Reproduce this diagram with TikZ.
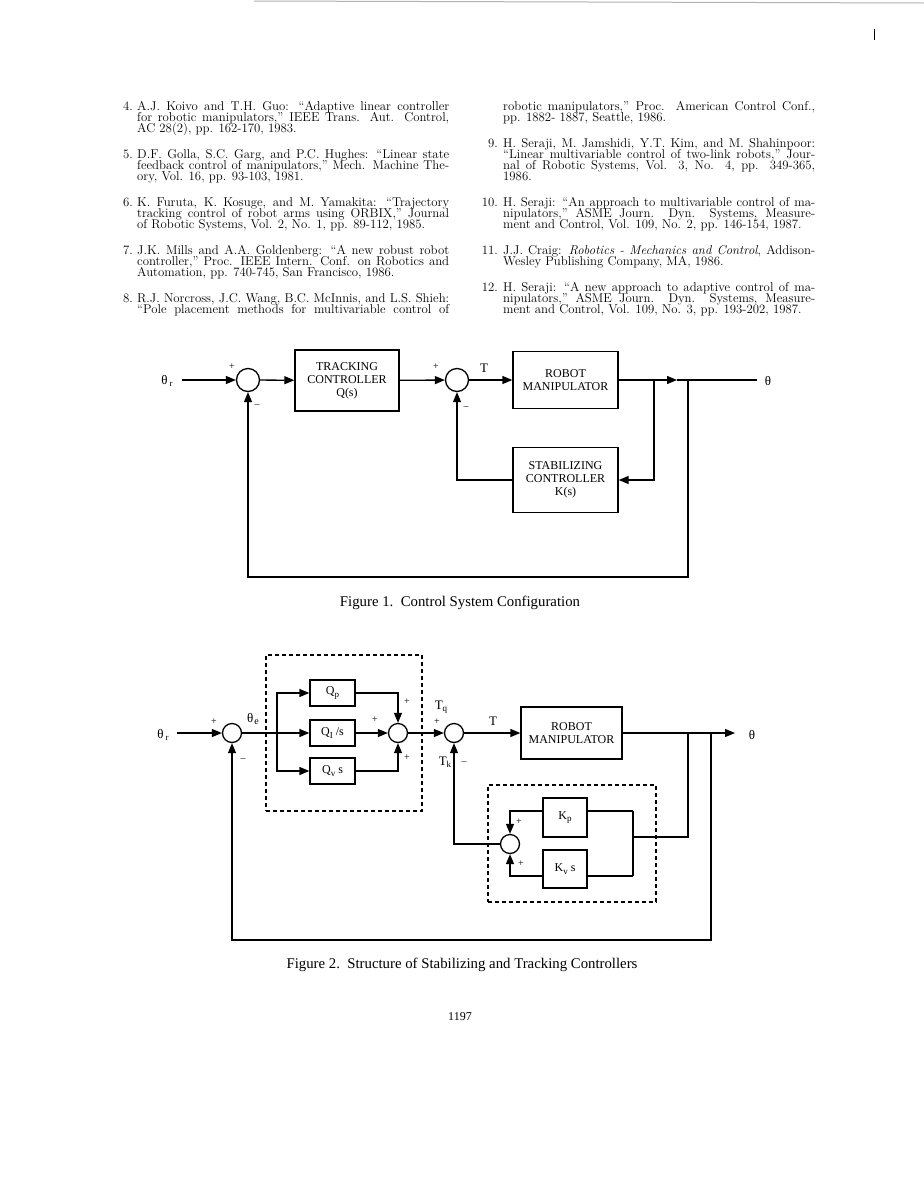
\documentclass[tikz,border=0pt]{standalone}
\usepackage{fontspec}
\newfontfamily\tms{Liberation Serif}
\usetikzlibrary{arrows.meta}
\setlength{\lineskiplimit}{-20pt}
\newlength{\refw}\setlength{\refw}{312pt}
\newcommand{\jl}[1]{\makebox[\refw][s]{#1}}
\newcommand{\sbs}[1]{\raisebox{-2.5pt}{\fontsize{9}{9}\selectfont #1}}
\begin{document}
\begin{tikzpicture}[x=1pt,y=-1pt,
  rt/.style={font=\fontsize{12.8}{11}\selectfont, inner sep=0pt, anchor=base west},
  rn/.style={font=\fontsize{12.8}{11}\selectfont, inner sep=0pt, anchor=base east},
  blk/.style={draw, line width=1.3pt, font=\tms\fontsize{12}{13}\selectfont, align=center, inner sep=0pt},
  sumc/.style={draw, circle, line width=1.3pt, minimum size=23pt, inner sep=0pt},
  sumd/.style={draw, circle, line width=1.3pt, minimum size=19pt, inner sep=0pt},
  ln/.style={line width=1.3pt},
  arr/.style={line width=1.3pt, -{Triangle[length=10pt,width=8pt]}},
  lbl/.style={font=\tms\fontsize{13}{13}\selectfont, inner sep=0pt},
  sgn/.style={font=\tms\fontsize{10}{10}\selectfont, inner sep=0pt},
  dbox/.style={draw, line width=1.3pt, dash pattern=on 4pt off 3pt, inner sep=0pt},
  captxt/.style={font=\tms\fontsize{14.8}{15}\selectfont, inner sep=0pt},
]
\useasboundingbox (0,0) rectangle (924,1192);
\fill[white] (0,0) rectangle (924,1192);
% top page edge and mark
\coordinate (e1) at (254,1); \coordinate (e2) at (924,3);
\draw[gray!60, line width=1pt] (e1) -- (e2);
\coordinate (k1) at (874,29); \coordinate (k2) at (874,40);
\draw[line width=0.6pt] (k1) -- (k2);

% ---------------- references, left column ----------------
\node[rn] (n4) at (133,110) {4.};
\node[rt] (l4a) at (137,110) {\jl{A.J. Koivo and T.H. Guo: “Adaptive linear controller}};
\node[rt] (l4b) at (137,121) {\jl{for robotic manipulators,” IEEE Trans. Aut. Control,}};
\node[rt] (l4c) at (137,132) {AC 28(2), pp. 162-170, 1983.};
\node[rn] (n5) at (133,158) {5.};
\node[rt] (l5a) at (137,158) {\jl{D.F. Golla, S.C. Garg, and P.C. Hughes: “Linear state}};
\node[rt] (l5b) at (137,169) {\jl{feedback control of manipulators,” Mech. Machine The-}};
\node[rt] (l5c) at (137,180) {ory, Vol. 16, pp. 93-103, 1981.};
\node[rn] (n6) at (133,206) {6.};
\node[rt] (l6a) at (137,206) {\jl{K. Furuta, K. Kosuge, and M. Yamakita: “Trajectory}};
\node[rt] (l6b) at (137,217) {\jl{tracking control of robot arms using ORBIX,” Journal}};
\node[rt] (l6c) at (137,228) {of Robotic Systems, Vol. 2, No. 1, pp. 89-112, 1985.};
\node[rn] (n7) at (133,254) {7.};
\node[rt] (l7a) at (137,254) {\jl{J.K. Mills and A.A. Goldenberg: “A new robust robot}};
\node[rt] (l7b) at (137,265) {\jl{controller,” Proc. IEEE Intern. Conf. on Robotics and}};
\node[rt] (l7c) at (137,276) {Automation, pp. 740-745, San Francisco, 1986.};
\node[rn] (n8) at (133,302) {8.};
\node[rt] (l8a) at (137,302) {\jl{R.J. Norcross, J.C. Wang, B.C. McInnis, and L.S. Shieh:}};
\node[rt] (l8b) at (137,313) {\jl{“Pole placement methods for multivariable control of}};

% ---------------- references, right column ----------------
\node[rt] (r8c) at (503,110) {\jl{robotic manipulators,” Proc. American Control Conf.,}};
\node[rt] (r8d) at (503,121) {pp. 1882- 1887, Seattle, 1986.};
\node[rn] (n9) at (498,147) {9.};
\node[rt] (r9a) at (503,147) {\jl{H. Seraji, M. Jamshidi, Y.T. Kim, and M. Shahinpoor:}};
\node[rt] (r9b) at (503,158) {\jl{“Linear multivariable control of two-link robots,” Jour-}};
\node[rt] (r9c) at (503,169) {\jl{nal of Robotic Systems, Vol. 3, No. 4, pp. 349-365,}};
\node[rt] (r9d) at (503,180) {1986.};
\node[rn] (n10) at (498,206) {10.};
\node[rt] (r10a) at (503,206) {\jl{H. Seraji: “An approach to multivariable control of ma-}};
\node[rt] (r10b) at (503,217) {\jl{nipulators,” ASME Journ. Dyn. Systems, Measure-}};
\node[rt] (r10c) at (503,228) {ment and Control, Vol. 109, No. 2, pp. 146-154, 1987.};
\node[rn] (n11) at (498,254) {11.};
\node[rt] (r11a) at (503,254) {\jl{J.J. Craig: \textit{Robotics - Mechanics and Control}, Addison-}};
\node[rt] (r11b) at (503,265) {Wesley Publishing Company, MA, 1986.};
\node[rn] (n12) at (498,291) {12.};
\node[rt] (r12a) at (503,291) {\jl{H. Seraji: “A new approach to adaptive control of ma-}};
\node[rt] (r12b) at (503,302) {\jl{nipulators,” ASME Journ. Dyn. Systems, Measure-}};
\node[rt] (r12c) at (503,313) {ment and Control, Vol. 109, No. 3, pp. 193-202, 1987.};

% ---------------- Figure 1 ----------------
\node[lbl] (thr1) at (167,381) {θ\hspace{2pt}\sbs{r}};
\coordinate (in1) at (182,380);
\node[sumc] (s1) at (248,380) {};
\node[blk, minimum width=104pt, minimum height=61pt] (tc) at (347,380.5) {TRACKING\\CONTROLLER\\Q(s)};
\node[sumc] (s2) at (457,380) {};
\node[blk, minimum width=105pt, minimum height=57pt] (rm1) at (565.5,380) {ROBOT\\MANIPULATOR};
\node[blk, minimum width=105pt, minimum height=65pt] (sc) at (565.5,480) {STABILIZING\\CONTROLLER\\K(s)};
\coordinate (b1) at (654,380);
\coordinate (b2) at (688,380);
\coordinate (tip1) at (677,380);
\coordinate (out1) at (757,380);
\coordinate (c1) at (688,577);
\node[lbl] (th1) at (768,381) {θ};
\draw[arr] (in1) -- (s1);
\draw[arr] (s1) -- (tc);
\draw[arr] (tc) -- (s2);
\draw[arr] (s2) -- (rm1);
\draw[arr] (rm1) -- (tip1);
\draw[ln] (tip1) -- (out1);
\draw[arr] (b1) |- (sc);
\draw[arr] (sc) -| (s2);
\draw[arr] (b2) -- (c1) -| (s1);
\node[sgn] (p1) at (232,367) {+};
\node[sgn] (m1) at (257,406) {–};
\node[sgn] (p2) at (436,367) {+};
\node[lbl] (t1) at (484,368) {T};
\node[sgn] (m2) at (466,408) {–};
\node[captxt] (cap1) at (460,603) {Figure 1.\ \ Control System Configuration};

% ---------------- Figure 2 ----------------
\node[dbox, minimum width=156pt, minimum height=156pt] (tbox) at (344,733) {};
\node[dbox, minimum width=168pt, minimum height=117pt] (kbox) at (572,843.5) {};
\node[lbl] (thr2) at (163,735) {θ\hspace{2pt}\sbs{r}};
\coordinate (in2) at (177,733);
\node[sumd] (sa) at (232,733) {};
\node[lbl] (the) at (253,719) {θ\hspace{1pt}\raisebox{-1.5pt}{\fontsize{10}{10}\selectfont e}};
\coordinate (sp) at (277,733);
\node[blk, minimum width=45pt, minimum height=26pt] (qp) at (332.5,693) {Q\sbs{p}};
\node[blk, minimum width=45pt, minimum height=26pt] (qi) at (332.5,733) {Q\sbs{I} /s};
\node[blk, minimum width=45pt, minimum height=26pt] (qv) at (332.5,771) {Q\sbs{v} s};
\node[sumd] (sb) at (398,733) {};
\node[sumd] (sc2) at (454,733) {};
\node[blk, minimum width=101pt, minimum height=52pt] (rm2) at (571.5,733) {ROBOT\\MANIPULATOR};
\coordinate (tip2) at (735,733);
\node[lbl] (th2) at (752,735) {θ};
\coordinate (b3) at (688,733);
\coordinate (b4) at (711,733);
\node[blk, minimum width=44pt, minimum height=39pt] (kp) at (565,817.5) {K\sbs{p}};
\node[blk, minimum width=44pt, minimum height=38pt] (kv) at (565,869) {K\sbs{v} s};
\node[sumd] (sd) at (510,844) {};
\coordinate (kj1) at (633,811);
\coordinate (kj2) at (633,876);
\coordinate (kj) at (633,837);
\coordinate (b3d) at (688,837);
\coordinate (c2) at (711,940);

\draw[arr] (in2) -- (sa);
\draw[ln] (sa) -- (sp);
\draw[arr] (sp) -- (qi);
\draw[arr] (sp) |- (qp);
\draw[arr] (sp) |- (qv);
\draw[arr] (qi) -- (sb);
\draw[arr] (qp) -| (sb);
\draw[arr] (qv) -| (sb);
\draw[arr] (sb) -- (sc2);
\draw[arr] (sc2) -- (rm2);
\draw[arr] (rm2) -- (tip2);
\draw[ln] (b3) -- (b3d) -- (kj);
\draw[ln] (kj1) -- (kj2);
\draw[ln] (kp.east |- kj1) -- (kj1);
\draw[ln] (kv.east |- kj2) -- (kj2);
\draw[arr] (kp.west |- kj1) -| (sd);
\draw[arr] (kv.west |- kj2) -| (sd);
\draw[arr] (sd) -| (sc2);
\draw[arr] (b4) -- (c2) -| (sa);

\node[sgn] (p3) at (214,722) {+};
\node[sgn] (m3) at (243,760) {–};
\node[sgn] (p4) at (375,720) {+};
\node[sgn] (p5) at (407,702) {+};
\node[sgn] (p6) at (407,758) {+};
\node[lbl] (tq) at (441,707) {T\sbs{q}};
\node[sgn] (p7) at (437,722) {+};
\node[lbl] (tk) at (445,762) {T\sbs{k}};
\node[sgn] (m4) at (464,763) {–};
\node[lbl] (t2) at (493,721) {T};
\node[sgn] (p8) at (519,822) {+};
\node[sgn] (p9) at (521,864) {+};
\node[captxt] (cap2) at (462,965) {Figure 2.\ \ Structure of Stabilizing and Tracking Controllers};
\node[font=\tms\fontsize{12}{12}\selectfont, inner sep=0pt] (pg) at (460,1017) {1197};
\end{tikzpicture}
\end{document}
